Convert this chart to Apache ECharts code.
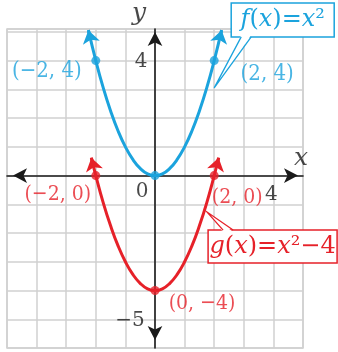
<!DOCTYPE html>
<html><head><meta charset="utf-8">
<script src="https://cdn.jsdelivr.net/npm/echarts@6/dist/echarts.min.js"></script>
<style>html,body{margin:0;padding:0;background:#fff}#c{width:338px;height:352px}</style>
</head><body><div id="c"></div>
<script>
// ---- data ----
const fCurveX = [-2.25, -2, -1.75, -1.5, -1.25, -1, -0.75, -0.5, -0.25, 0, 0.25, 0.5, 0.75, 1, 1.25, 1.5, 1.75, 2, 2.25];
const fCurveY = [5.06, 4, 3.06, 2.25, 1.56, 1, 0.56, 0.25, 0.06, 0, 0.06, 0.25, 0.56, 1, 1.56, 2.25, 3.06, 4, 5.06];
const gCurveX = [-2.15, -2, -1.75, -1.5, -1.25, -1, -0.75, -0.5, -0.25, 0, 0.25, 0.5, 0.75, 1, 1.25, 1.5, 1.75, 2, 2.15];
const gCurveY = [0.62, 0, -0.94, -1.75, -2.44, -3, -3.44, -3.75, -3.94, -4, -3.94, -3.75, -3.44, -3, -2.44, -1.75, -0.94, 0, 0.62];
// arrow segments at the curve ends [from, to]
const fArrowX = [[-2.2, -2.25], [2.2, 2.25]];
const fArrowY = [[4.84, 5.06], [4.84, 5.06]];
const gArrowX = [[-2.1, -2.15], [2.1, 2.15]];
const gArrowY = [[0.41, 0.62], [0.41, 0.62]];
// marked points
const fPointX = [-2, 2, 0];
const fPointY = [4, 4, 0];
const fPointText = ['(−2, 4)', '(2, 4)', ''];
const gPointX = [-2, 2, 0];
const gPointY = [0, 0, -4];
const gPointText = ['(−2, 0)', '(2, 0)', '(0, −4)'];
// callout tips (on the curves)
const calloutTipX = [2.0, 1.76];
const calloutTipY = [3.05, -1.27];
// tick labels and axis names
const xTickValues = [0, 4];
const xTickTexts = ['0', '4'];
const yTickValues = [4, -5];
const yTickTexts = ['4', '−5'];
const axisNames = ['x', 'y'];
const axisNameAnchorX = [5, 0];
const axisNameAnchorY = [0, 5.1];

// ---- styles ----
const BLUE = '#1ba3dd', RED = '#e62129', INK = '#1a1a1a';
const FONT = 'DejaVu Serif';
const LFONT = "'DejaVu Serif Condensed', 'DejaVu Serif'";
const fLabelOffsets = [[-49, 11], [53, 14], [0, 0]];
const gLabelOffsets = [[-38, 19], [23, 22], [47, 13]];
const xTickOffsets = [[-13, 16], [-2, 19]];
const yTickOffsets = [[-14, 1.5], [-25, 1.5]];
const axisNameOffsets = [[-2, -17], [-16, -16]];
const calloutLayout = [
  { color: BLUE, box: [17, -85, 103, 34], base: [[27, -51], [37, -51]], inward: -2,
    text: '{i|f}{n|(}{i|x}{n|)=}{i|x}{n|²}' },
  { color: RED, box: [1, 18, 129, 33], base: [[16, 18], [26, 18]], inward: 2,
    text: '{i|g}{n|(}{i|x}{n|)=}{i|x}{n|²−4}' }
];

const chart = echarts.init(document.getElementById('c'), null, {renderer: 'canvas'});

function zip(xs, ys) { return xs.map((x, i) => [x, ys[i]]); }

function renderCallout(params, api) {
  const i = params.dataIndex;
  const L = calloutLayout[i];
  const p = api.coord([api.value(0), api.value(1)]);
  const bx = p[0] + L.box[0], by = p[1] + L.box[1];
  const b0 = [p[0] + L.base[0][0], p[1] + L.base[0][1]];
  const b1 = [p[0] + L.base[1][0], p[1] + L.base[1][1]];
  const b0i = [b0[0], b0[1] + L.inward], b1i = [b1[0], b1[1] + L.inward];
  const n = { fontFamily: FONT, fontSize: 24, fill: L.color, fontStyle: 'normal' };
  const it = { fontFamily: FONT, fontSize: 24, fill: L.color, fontStyle: 'italic' };
  return {
    type: 'group',
    children: [
      { type: 'rect', shape: { x: bx, y: by, width: L.box[2], height: L.box[3] },
        style: { fill: '#fff', stroke: L.color, lineWidth: 1.5 } },
      { type: 'polygon', shape: { points: [p, b0i, b1i] }, style: { fill: '#fff' } },
      { type: 'polyline', shape: { points: [b0, p, b1] },
        style: { fill: null, stroke: L.color, lineWidth: 1.3 } },
      { type: 'text', x: bx + L.box[2] / 2, y: by + L.box[3] / 2,
        style: { text: L.text, align: 'center', verticalAlign: 'middle',
                 fontFamily: FONT, fontSize: 24, fill: L.color,
                 rich: { i: it, n: n } } }
    ]
  };
}

function pointData(xs, ys, texts, offs) {
  return xs.map((x, i) => ({
    value: [x, ys[i]],
    label: { show: !!texts[i], formatter: texts[i], offset: offs[i] }
  }));
}

const axisArrowStyle = { color: INK, width: 1.6 };
const option = {
  animation: false,
  backgroundColor: '#fff',
  grid: { left: 7, right: 35, top: 29, bottom: 4, show: true, outerBoundsMode: 'none',
          borderColor: '#d0d0d0', borderWidth: 1.5, containLabel: false },
  xAxis: {
    type: 'value', min: -5, max: 5, interval: 1,
    axisLine: { show: true, onZero: true, lineStyle: axisArrowStyle,
                symbol: ['arrow', 'arrow'], symbolSize: [11, 14], symbolOffset: [6, -5] },
    axisTick: { show: false },
    axisLabel: { show: false },
    splitLine: { show: true, lineStyle: { color: '#d0d0d0', width: 1.5 } }
  },
  yAxis: {
    type: 'value', min: -6, max: 5.1, interval: 1,
    axisLine: { show: true, onZero: true, lineStyle: axisArrowStyle,
                symbol: ['arrow', 'arrow'], symbolSize: [11, 14], symbolOffset: [8, -3] },
    axisTick: { show: false },
    axisLabel: { show: false },
    splitLine: { show: true, lineStyle: { color: '#d0d0d0', width: 1.5 } }
  },
  series: [
    { type: 'custom', name: 'callouts', renderItem: renderCallout, clip: false, z: 1,
      data: zip(calloutTipX, calloutTipY) },
    { type: 'line', name: 'f', data: zip(fCurveX, fCurveY), smooth: true, showSymbol: false,
      symbol: 'none', lineStyle: { color: BLUE, width: 3 }, z: 3, clip: false },
    { type: 'line', name: 'g', data: zip(gCurveX, gCurveY), smooth: true, showSymbol: false,
      symbol: 'none', lineStyle: { color: RED, width: 3 }, z: 3, clip: false },
    { type: 'lines', coordinateSystem: 'cartesian2d', z: 4,
      symbol: ['none', 'arrow'], symbolSize: 13,
      lineStyle: { color: BLUE, width: 3, opacity: 1 },
      data: fArrowX.map((xs, i) => ({ coords: [[xs[0], fArrowY[i][0]], [xs[1], fArrowY[i][1]]] })) },
    { type: 'lines', coordinateSystem: 'cartesian2d', z: 4,
      symbol: ['none', 'arrow'], symbolSize: 13,
      lineStyle: { color: RED, width: 3, opacity: 1 },
      data: gArrowX.map((xs, i) => ({ coords: [[xs[0], gArrowY[i][0]], [xs[1], gArrowY[i][1]]] })) },
    { type: 'scatter', name: 'fPts', symbolSize: 9, z: 5, clip: false,
      itemStyle: { color: BLUE },
      label: { position: 'inside', color: BLUE, fontFamily: LFONT, fontSize: 22 },
      data: pointData(fPointX, fPointY, fPointText, fLabelOffsets) },
    { type: 'scatter', name: 'gPts', symbolSize: 9, z: 5, clip: false,
      itemStyle: { color: RED },
      label: { position: 'inside', color: RED, fontFamily: LFONT, fontSize: 21 },
      data: pointData(gPointX, gPointY, gPointText, gLabelOffsets) },
    { type: 'scatter', name: 'xTicks', symbolSize: 0, z: 5, clip: false, silent: true,
      label: { show: true, position: 'inside', color: INK, fontFamily: FONT, fontSize: 20 },
      data: xTickValues.map((v, i) => ({ value: [v, 0], label: { formatter: xTickTexts[i], offset: xTickOffsets[i] } })) },
    { type: 'scatter', name: 'yTicks', symbolSize: 0, z: 5, clip: false, silent: true,
      label: { show: true, position: 'inside', color: INK, fontFamily: FONT, fontSize: 20 },
      data: yTickValues.map((v, i) => ({ value: [0, v], label: { formatter: yTickTexts[i], offset: yTickOffsets[i] } })) },
    { type: 'scatter', name: 'axisNames', symbolSize: 0, z: 5, clip: false, silent: true,
      label: { show: true, position: 'inside', color: INK, fontFamily: FONT, fontSize: 25, fontStyle: 'italic' },
      data: axisNames.map((t, i) => ({ value: [axisNameAnchorX[i], axisNameAnchorY[i]], label: { formatter: t, offset: axisNameOffsets[i] } })) }
  ]
};
chart.setOption(option);
</script>
</body></html>
